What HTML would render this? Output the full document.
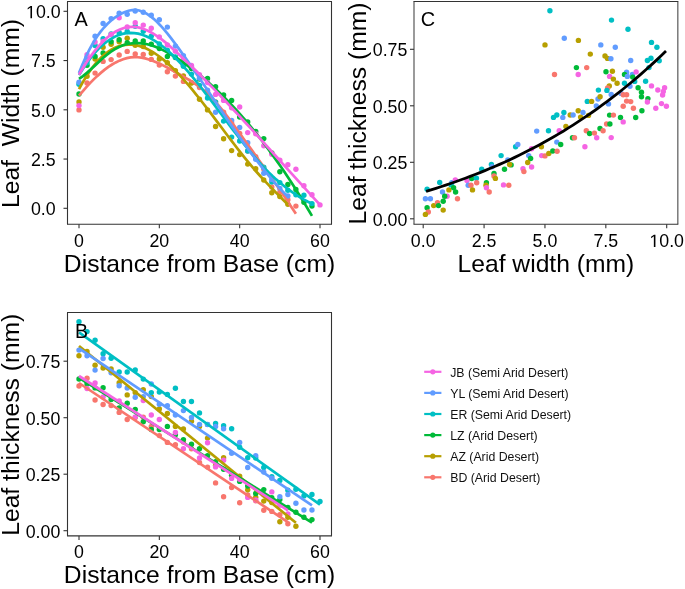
<!DOCTYPE html><html><head><meta charset="utf-8"><style>html,body{margin:0;padding:0;background:#fff;}svg{display:block;filter:blur(0.3px);}text{font-family:"Liberation Sans", sans-serif;fill:#000;}</style></head><body>
<svg width="685" height="589" viewBox="0 0 685 589">
<rect width="685" height="589" fill="#fff"/>
<g>
<circle cx="79.00" cy="109.90" r="2.7" fill="#F8766D"/>
<circle cx="87.03" cy="83.00" r="2.7" fill="#F8766D"/>
<circle cx="95.07" cy="73.10" r="2.7" fill="#F8766D"/>
<circle cx="103.10" cy="61.40" r="2.7" fill="#F8766D"/>
<circle cx="111.13" cy="59.60" r="2.7" fill="#F8766D"/>
<circle cx="119.17" cy="55.00" r="2.7" fill="#F8766D"/>
<circle cx="127.20" cy="51.40" r="2.7" fill="#F8766D"/>
<circle cx="135.23" cy="53.90" r="2.7" fill="#F8766D"/>
<circle cx="143.27" cy="54.50" r="2.7" fill="#F8766D"/>
<circle cx="151.30" cy="59.40" r="2.7" fill="#F8766D"/>
<circle cx="159.33" cy="65.10" r="2.7" fill="#F8766D"/>
<circle cx="167.37" cy="71.80" r="2.7" fill="#F8766D"/>
<circle cx="175.40" cy="76.10" r="2.7" fill="#F8766D"/>
<circle cx="183.43" cy="81.40" r="2.7" fill="#F8766D"/>
<circle cx="191.47" cy="82.70" r="2.7" fill="#F8766D"/>
<circle cx="199.50" cy="87.50" r="2.7" fill="#F8766D"/>
<circle cx="207.53" cy="92.00" r="2.7" fill="#F8766D"/>
<circle cx="215.57" cy="102.01" r="2.7" fill="#F8766D"/>
<circle cx="223.60" cy="112.20" r="2.7" fill="#F8766D"/>
<circle cx="231.63" cy="122.90" r="2.7" fill="#F8766D"/>
<circle cx="239.67" cy="133.33" r="2.7" fill="#F8766D"/>
<circle cx="247.70" cy="151.00" r="2.7" fill="#F8766D"/>
<circle cx="255.73" cy="156.70" r="2.7" fill="#F8766D"/>
<circle cx="263.77" cy="169.00" r="2.7" fill="#F8766D"/>
<circle cx="271.80" cy="187.00" r="2.7" fill="#F8766D"/>
<circle cx="279.83" cy="192.10" r="2.7" fill="#F8766D"/>
<circle cx="287.87" cy="199.80" r="2.7" fill="#F8766D"/>
<circle cx="295.90" cy="206.10" r="2.7" fill="#F8766D"/>
<circle cx="79.00" cy="101.90" r="2.7" fill="#B79F00"/>
<circle cx="87.03" cy="76.20" r="2.7" fill="#B79F00"/>
<circle cx="95.07" cy="59.00" r="2.7" fill="#B79F00"/>
<circle cx="103.10" cy="47.30" r="2.7" fill="#B79F00"/>
<circle cx="111.13" cy="44.30" r="2.7" fill="#B79F00"/>
<circle cx="119.17" cy="41.70" r="2.7" fill="#B79F00"/>
<circle cx="127.20" cy="38.20" r="2.7" fill="#B79F00"/>
<circle cx="135.23" cy="45.30" r="2.7" fill="#B79F00"/>
<circle cx="143.27" cy="46.50" r="2.7" fill="#B79F00"/>
<circle cx="151.30" cy="53.30" r="2.7" fill="#B79F00"/>
<circle cx="159.33" cy="59.00" r="2.7" fill="#B79F00"/>
<circle cx="167.37" cy="62.70" r="2.7" fill="#B79F00"/>
<circle cx="175.40" cy="70.60" r="2.7" fill="#B79F00"/>
<circle cx="183.43" cy="75.90" r="2.7" fill="#B79F00"/>
<circle cx="191.47" cy="83.00" r="2.7" fill="#B79F00"/>
<circle cx="199.50" cy="99.20" r="2.7" fill="#B79F00"/>
<circle cx="207.53" cy="109.90" r="2.7" fill="#B79F00"/>
<circle cx="215.57" cy="126.50" r="2.7" fill="#B79F00"/>
<circle cx="223.60" cy="138.80" r="2.7" fill="#B79F00"/>
<circle cx="231.63" cy="150.60" r="2.7" fill="#B79F00"/>
<circle cx="239.67" cy="154.60" r="2.7" fill="#B79F00"/>
<circle cx="247.70" cy="164.10" r="2.7" fill="#B79F00"/>
<circle cx="255.73" cy="168.80" r="2.7" fill="#B79F00"/>
<circle cx="263.77" cy="180.00" r="2.7" fill="#B79F00"/>
<circle cx="271.80" cy="192.80" r="2.7" fill="#B79F00"/>
<circle cx="279.83" cy="196.60" r="2.7" fill="#B79F00"/>
<circle cx="287.87" cy="204.20" r="2.7" fill="#B79F00"/>
<circle cx="79.00" cy="94.00" r="2.7" fill="#00BA38"/>
<circle cx="87.03" cy="65.20" r="2.7" fill="#00BA38"/>
<circle cx="95.07" cy="56.50" r="2.7" fill="#00BA38"/>
<circle cx="103.10" cy="52.90" r="2.7" fill="#00BA38"/>
<circle cx="111.13" cy="41.80" r="2.7" fill="#00BA38"/>
<circle cx="119.17" cy="39.70" r="2.7" fill="#00BA38"/>
<circle cx="127.20" cy="42.80" r="2.7" fill="#00BA38"/>
<circle cx="135.23" cy="41.00" r="2.7" fill="#00BA38"/>
<circle cx="143.27" cy="41.00" r="2.7" fill="#00BA38"/>
<circle cx="151.30" cy="44.10" r="2.7" fill="#00BA38"/>
<circle cx="159.33" cy="48.60" r="2.7" fill="#00BA38"/>
<circle cx="167.37" cy="56.50" r="2.7" fill="#00BA38"/>
<circle cx="175.40" cy="57.50" r="2.7" fill="#00BA38"/>
<circle cx="183.43" cy="65.50" r="2.7" fill="#00BA38"/>
<circle cx="191.47" cy="68.47" r="2.7" fill="#00BA38"/>
<circle cx="199.50" cy="79.00" r="2.7" fill="#00BA38"/>
<circle cx="207.53" cy="78.40" r="2.7" fill="#00BA38"/>
<circle cx="215.57" cy="86.70" r="2.7" fill="#00BA38"/>
<circle cx="223.60" cy="95.00" r="2.7" fill="#00BA38"/>
<circle cx="231.63" cy="100.40" r="2.7" fill="#00BA38"/>
<circle cx="239.67" cy="117.00" r="2.7" fill="#00BA38"/>
<circle cx="247.70" cy="122.00" r="2.7" fill="#00BA38"/>
<circle cx="255.73" cy="131.50" r="2.7" fill="#00BA38"/>
<circle cx="263.77" cy="138.60" r="2.7" fill="#00BA38"/>
<circle cx="271.80" cy="153.00" r="2.7" fill="#00BA38"/>
<circle cx="279.83" cy="171.80" r="2.7" fill="#00BA38"/>
<circle cx="287.87" cy="184.50" r="2.7" fill="#00BA38"/>
<circle cx="295.90" cy="189.48" r="2.7" fill="#00BA38"/>
<circle cx="303.93" cy="202.30" r="2.7" fill="#00BA38"/>
<circle cx="311.97" cy="206.10" r="2.7" fill="#00BA38"/>
<circle cx="79.00" cy="84.20" r="2.7" fill="#00BFC4"/>
<circle cx="87.03" cy="62.68" r="2.7" fill="#00BFC4"/>
<circle cx="95.07" cy="45.50" r="2.7" fill="#00BFC4"/>
<circle cx="103.10" cy="38.80" r="2.7" fill="#00BFC4"/>
<circle cx="111.13" cy="33.90" r="2.7" fill="#00BFC4"/>
<circle cx="119.17" cy="32.50" r="2.7" fill="#00BFC4"/>
<circle cx="127.20" cy="31.50" r="2.7" fill="#00BFC4"/>
<circle cx="135.23" cy="26.30" r="2.7" fill="#00BFC4"/>
<circle cx="143.27" cy="31.20" r="2.7" fill="#00BFC4"/>
<circle cx="151.30" cy="36.10" r="2.7" fill="#00BFC4"/>
<circle cx="159.33" cy="43.86" r="2.7" fill="#00BFC4"/>
<circle cx="167.37" cy="50.29" r="2.7" fill="#00BFC4"/>
<circle cx="175.40" cy="56.90" r="2.7" fill="#00BFC4"/>
<circle cx="183.43" cy="66.36" r="2.7" fill="#00BFC4"/>
<circle cx="191.47" cy="74.10" r="2.7" fill="#00BFC4"/>
<circle cx="199.50" cy="85.56" r="2.7" fill="#00BFC4"/>
<circle cx="207.53" cy="98.00" r="2.7" fill="#00BFC4"/>
<circle cx="215.57" cy="102.10" r="2.7" fill="#00BFC4"/>
<circle cx="223.60" cy="121.10" r="2.7" fill="#00BFC4"/>
<circle cx="231.63" cy="137.10" r="2.7" fill="#00BFC4"/>
<circle cx="239.67" cy="141.00" r="2.7" fill="#00BFC4"/>
<circle cx="247.70" cy="151.00" r="2.7" fill="#00BFC4"/>
<circle cx="255.73" cy="158.32" r="2.7" fill="#00BFC4"/>
<circle cx="263.77" cy="167.25" r="2.7" fill="#00BFC4"/>
<circle cx="271.80" cy="181.90" r="2.7" fill="#00BFC4"/>
<circle cx="279.83" cy="182.59" r="2.7" fill="#00BFC4"/>
<circle cx="287.87" cy="190.20" r="2.7" fill="#00BFC4"/>
<circle cx="295.90" cy="194.68" r="2.7" fill="#00BFC4"/>
<circle cx="303.93" cy="195.30" r="2.7" fill="#00BFC4"/>
<circle cx="311.97" cy="203.60" r="2.7" fill="#00BFC4"/>
<circle cx="79.00" cy="82.30" r="2.7" fill="#619CFF"/>
<circle cx="87.03" cy="57.20" r="2.7" fill="#619CFF"/>
<circle cx="95.07" cy="36.30" r="2.7" fill="#619CFF"/>
<circle cx="103.10" cy="23.50" r="2.7" fill="#619CFF"/>
<circle cx="111.13" cy="18.60" r="2.7" fill="#619CFF"/>
<circle cx="119.17" cy="13.20" r="2.7" fill="#619CFF"/>
<circle cx="127.20" cy="14.20" r="2.7" fill="#619CFF"/>
<circle cx="135.23" cy="11.00" r="2.7" fill="#619CFF"/>
<circle cx="143.27" cy="12.20" r="2.7" fill="#619CFF"/>
<circle cx="151.30" cy="15.30" r="2.7" fill="#619CFF"/>
<circle cx="159.33" cy="19.80" r="2.7" fill="#619CFF"/>
<circle cx="167.37" cy="27.10" r="2.7" fill="#619CFF"/>
<circle cx="175.40" cy="46.10" r="2.7" fill="#619CFF"/>
<circle cx="183.43" cy="55.70" r="2.7" fill="#619CFF"/>
<circle cx="191.47" cy="66.57" r="2.7" fill="#619CFF"/>
<circle cx="199.50" cy="78.29" r="2.7" fill="#619CFF"/>
<circle cx="207.53" cy="90.16" r="2.7" fill="#619CFF"/>
<circle cx="215.57" cy="112.20" r="2.7" fill="#619CFF"/>
<circle cx="223.60" cy="113.96" r="2.7" fill="#619CFF"/>
<circle cx="231.63" cy="120.50" r="2.7" fill="#619CFF"/>
<circle cx="239.67" cy="127.50" r="2.7" fill="#619CFF"/>
<circle cx="247.70" cy="142.70" r="2.7" fill="#619CFF"/>
<circle cx="255.73" cy="159.32" r="2.7" fill="#619CFF"/>
<circle cx="263.77" cy="173.30" r="2.7" fill="#619CFF"/>
<circle cx="271.80" cy="179.40" r="2.7" fill="#619CFF"/>
<circle cx="279.83" cy="188.48" r="2.7" fill="#619CFF"/>
<circle cx="287.87" cy="196.00" r="2.7" fill="#619CFF"/>
<circle cx="79.00" cy="105.60" r="2.7" fill="#F564E3"/>
<circle cx="87.03" cy="54.80" r="2.7" fill="#F564E3"/>
<circle cx="95.07" cy="42.10" r="2.7" fill="#F564E3"/>
<circle cx="103.10" cy="41.43" r="2.7" fill="#F564E3"/>
<circle cx="111.13" cy="34.52" r="2.7" fill="#F564E3"/>
<circle cx="119.17" cy="17.80" r="2.7" fill="#F564E3"/>
<circle cx="127.20" cy="27.00" r="2.7" fill="#F564E3"/>
<circle cx="135.23" cy="22.70" r="2.7" fill="#F564E3"/>
<circle cx="143.27" cy="25.10" r="2.7" fill="#F564E3"/>
<circle cx="151.30" cy="28.20" r="2.7" fill="#F564E3"/>
<circle cx="159.33" cy="36.90" r="2.7" fill="#F564E3"/>
<circle cx="167.37" cy="44.90" r="2.7" fill="#F564E3"/>
<circle cx="175.40" cy="51.13" r="2.7" fill="#F564E3"/>
<circle cx="183.43" cy="59.20" r="2.7" fill="#F564E3"/>
<circle cx="191.47" cy="65.50" r="2.7" fill="#F564E3"/>
<circle cx="199.50" cy="74.70" r="2.7" fill="#F564E3"/>
<circle cx="207.53" cy="82.48" r="2.7" fill="#F564E3"/>
<circle cx="215.57" cy="94.40" r="2.7" fill="#F564E3"/>
<circle cx="223.60" cy="100.40" r="2.7" fill="#F564E3"/>
<circle cx="231.63" cy="107.71" r="2.7" fill="#F564E3"/>
<circle cx="239.67" cy="107.00" r="2.7" fill="#F564E3"/>
<circle cx="247.70" cy="132.60" r="2.7" fill="#F564E3"/>
<circle cx="255.73" cy="133.80" r="2.7" fill="#F564E3"/>
<circle cx="263.77" cy="145.70" r="2.7" fill="#F564E3"/>
<circle cx="271.80" cy="154.30" r="2.7" fill="#F564E3"/>
<circle cx="279.83" cy="160.30" r="2.7" fill="#F564E3"/>
<circle cx="287.87" cy="164.70" r="2.7" fill="#F564E3"/>
<circle cx="295.90" cy="169.20" r="2.7" fill="#F564E3"/>
<circle cx="303.93" cy="185.80" r="2.7" fill="#F564E3"/>
<circle cx="311.97" cy="194.70" r="2.7" fill="#F564E3"/>
<circle cx="320.00" cy="204.90" r="2.7" fill="#F564E3"/>
<path d="M79.00,95.65 L82.68,91.28 L86.35,87.10 L90.03,83.14 L93.71,79.39 L97.38,75.88 L101.06,72.62 L104.73,69.63 L108.41,66.93 L112.09,64.52 L115.76,62.42 L119.44,60.65 L123.12,59.22 L126.79,58.16 L130.47,57.46 L134.14,57.15 L137.82,57.23 L141.50,57.66 L145.17,58.41 L148.85,59.43 L152.53,60.70 L156.20,62.19 L159.88,63.84 L163.55,65.64 L167.23,67.54 L170.91,69.53 L174.58,71.58 L178.26,73.66 L181.94,75.74 L185.61,77.84 L189.29,80.02 L192.96,82.31 L196.64,84.79 L200.32,87.49 L203.99,90.48 L207.67,93.80 L211.35,97.45 L215.02,101.40 L218.70,105.63 L222.37,110.11 L226.05,114.80 L229.73,119.67 L233.40,124.67 L237.08,129.74 L240.76,134.84 L244.43,139.95 L248.11,145.05 L251.78,150.16 L255.46,155.28 L259.14,160.42 L262.81,165.57 L266.49,170.75 L270.17,175.97 L273.84,181.22 L277.52,186.51 L281.19,191.85 L284.87,197.23 L288.55,202.67 L292.22,208.16 L295.90,213.71" fill="none" stroke="#F8766D" stroke-width="2.7" stroke-linecap="butt"/>
<path d="M79.00,89.16 L82.54,82.67 L86.08,76.75 L89.62,71.38 L93.16,66.55 L96.70,62.24 L100.24,58.44 L103.78,55.14 L107.32,52.31 L110.86,49.95 L114.40,48.03 L117.94,46.56 L121.48,45.50 L125.02,44.84 L128.56,44.58 L132.10,44.69 L135.64,45.16 L139.18,45.98 L142.72,47.13 L146.26,48.59 L149.80,50.36 L153.34,52.41 L156.88,54.74 L160.42,57.32 L163.96,60.15 L167.50,63.20 L171.04,66.46 L174.58,69.93 L178.12,73.57 L181.66,77.39 L185.20,81.35 L188.74,85.46 L192.28,89.69 L195.82,94.03 L199.36,98.47 L202.90,102.98 L206.44,107.56 L209.98,112.19 L213.52,116.87 L217.06,121.57 L220.60,126.28 L224.14,130.99 L227.68,135.69 L231.22,140.37 L234.76,145.00 L238.30,149.59 L241.84,154.10 L245.38,158.54 L248.92,162.89 L252.46,167.13 L256.00,171.25 L259.55,175.25 L263.09,179.14 L266.63,182.93 L270.17,186.64 L273.71,190.29 L277.25,193.89 L280.79,197.45 L284.33,201.00 L287.87,204.54" fill="none" stroke="#B79F00" stroke-width="2.7" stroke-linecap="butt"/>
<path d="M79.00,78.87 L82.95,76.07 L86.90,72.85 L90.85,69.34 L94.79,65.67 L98.74,61.97 L102.69,58.35 L106.64,54.96 L110.59,51.91 L114.54,49.31 L118.49,47.19 L122.43,45.52 L126.38,44.28 L130.33,43.47 L134.28,43.05 L138.23,43.03 L142.18,43.36 L146.13,44.03 L150.07,45.02 L154.02,46.29 L157.97,47.83 L161.92,49.62 L165.87,51.63 L169.82,53.83 L173.77,56.21 L177.71,58.74 L181.66,61.39 L185.61,64.16 L189.56,67.04 L193.51,70.04 L197.46,73.15 L201.41,76.37 L205.35,79.72 L209.30,83.17 L213.25,86.75 L217.20,90.44 L221.15,94.26 L225.10,98.19 L229.05,102.24 L232.99,106.41 L236.94,110.70 L240.89,115.11 L244.84,119.64 L248.79,124.30 L252.74,129.08 L256.69,133.98 L260.63,139.00 L264.58,144.16 L268.53,149.43 L272.48,154.83 L276.43,160.36 L280.38,166.01 L284.33,171.80 L288.27,177.71 L292.22,183.74 L296.17,189.91 L300.12,196.21 L304.07,202.64 L308.02,209.19 L311.97,215.88" fill="none" stroke="#00BA38" stroke-width="2.7" stroke-linecap="butt"/>
<path d="M79.00,75.06 L82.95,68.69 L86.90,62.87 L90.85,57.58 L94.79,52.84 L98.74,48.61 L102.69,44.91 L106.64,41.72 L110.59,39.03 L114.54,36.84 L118.49,35.13 L122.43,33.91 L126.38,33.16 L130.33,32.88 L134.28,33.06 L138.23,33.69 L142.18,34.75 L146.13,36.22 L150.07,38.09 L154.02,40.32 L157.97,42.89 L161.92,45.79 L165.87,49.00 L169.82,52.49 L173.77,56.23 L177.71,60.22 L181.66,64.42 L185.61,68.81 L189.56,73.39 L193.51,78.12 L197.46,82.99 L201.41,87.98 L205.35,93.06 L209.30,98.23 L213.25,103.46 L217.20,108.73 L221.15,114.02 L225.10,119.31 L229.05,124.59 L232.99,129.83 L236.94,135.01 L240.89,140.12 L244.84,145.14 L248.79,150.04 L252.74,154.80 L256.69,159.42 L260.63,163.86 L264.58,168.11 L268.53,172.16 L272.48,175.99 L276.43,179.62 L280.38,183.05 L284.33,186.29 L288.27,189.33 L292.22,192.18 L296.17,194.85 L300.12,197.35 L304.07,199.66 L308.02,201.81 L311.97,203.79" fill="none" stroke="#00BFC4" stroke-width="2.7" stroke-linecap="butt"/>
<path d="M79.00,73.12 L82.54,64.24 L86.08,56.25 L89.62,49.10 L93.16,42.73 L96.70,37.08 L100.24,32.12 L103.78,27.77 L107.32,24.00 L110.86,20.74 L114.40,17.95 L117.94,15.58 L121.48,13.56 L125.02,11.92 L128.56,10.71 L132.10,10.03 L135.64,9.94 L139.18,10.51 L142.72,11.71 L146.26,13.49 L149.80,15.81 L153.34,18.60 L156.88,21.84 L160.42,25.46 L163.96,29.41 L167.50,33.66 L171.04,38.15 L174.58,42.83 L178.12,47.66 L181.66,52.59 L185.20,57.59 L188.74,62.64 L192.28,67.75 L195.82,72.90 L199.36,78.09 L202.90,83.30 L206.44,88.54 L209.98,93.79 L213.52,99.05 L217.06,104.30 L220.60,109.54 L224.14,114.77 L227.68,119.97 L231.22,125.13 L234.76,130.25 L238.30,135.33 L241.84,140.34 L245.38,145.29 L248.92,150.17 L252.46,154.97 L256.00,159.68 L259.55,164.29 L263.09,168.80 L266.63,173.20 L270.17,177.47 L273.71,181.62 L277.25,185.64 L280.79,189.51 L284.33,193.23 L287.87,196.79" fill="none" stroke="#619CFF" stroke-width="2.7" stroke-linecap="butt"/>
<path d="M79.00,74.71 L83.08,67.77 L87.17,61.36 L91.25,55.47 L95.34,50.12 L99.42,45.30 L103.51,41.03 L107.59,37.30 L111.68,34.13 L115.76,31.52 L119.85,29.48 L123.93,28.00 L128.02,27.10 L132.10,26.77 L136.19,27.03 L140.27,27.85 L144.36,29.18 L148.44,30.98 L152.53,33.19 L156.61,35.78 L160.69,38.69 L164.78,41.88 L168.86,45.30 L172.95,48.90 L177.03,52.64 L181.12,56.47 L185.20,60.36 L189.29,64.30 L193.37,68.29 L197.46,72.33 L201.54,76.41 L205.63,80.54 L209.71,84.71 L213.80,88.92 L217.88,93.17 L221.97,97.45 L226.05,101.76 L230.13,106.11 L234.22,110.48 L238.30,114.88 L242.39,119.30 L246.47,123.74 L250.56,128.20 L254.64,132.68 L258.73,137.17 L262.81,141.68 L266.90,146.19 L270.98,150.71 L275.07,155.24 L279.15,159.77 L283.24,164.31 L287.32,168.84 L291.41,173.36 L295.49,177.89 L299.58,182.40 L303.66,186.90 L307.74,191.39 L311.83,195.87 L315.91,200.33 L320.00,204.77" fill="none" stroke="#F564E3" stroke-width="2.7" stroke-linecap="butt"/>
</g>
<g>
<circle cx="79.00" cy="386.00" r="2.7" fill="#F8766D"/>
<circle cx="87.03" cy="378.30" r="2.7" fill="#F8766D"/>
<circle cx="95.07" cy="400.00" r="2.7" fill="#F8766D"/>
<circle cx="103.10" cy="404.50" r="2.7" fill="#F8766D"/>
<circle cx="111.13" cy="405.60" r="2.7" fill="#F8766D"/>
<circle cx="119.17" cy="412.40" r="2.7" fill="#F8766D"/>
<circle cx="127.20" cy="419.50" r="2.7" fill="#F8766D"/>
<circle cx="135.23" cy="417.60" r="2.7" fill="#F8766D"/>
<circle cx="143.27" cy="417.30" r="2.7" fill="#F8766D"/>
<circle cx="151.30" cy="426.40" r="2.7" fill="#F8766D"/>
<circle cx="159.33" cy="435.60" r="2.7" fill="#F8766D"/>
<circle cx="167.37" cy="442.40" r="2.7" fill="#F8766D"/>
<circle cx="175.40" cy="444.70" r="2.7" fill="#F8766D"/>
<circle cx="183.43" cy="442.00" r="2.7" fill="#F8766D"/>
<circle cx="191.47" cy="448.80" r="2.7" fill="#F8766D"/>
<circle cx="199.50" cy="462.50" r="2.7" fill="#F8766D"/>
<circle cx="207.53" cy="467.10" r="2.7" fill="#F8766D"/>
<circle cx="215.57" cy="482.90" r="2.7" fill="#F8766D"/>
<circle cx="223.60" cy="496.70" r="2.7" fill="#F8766D"/>
<circle cx="231.63" cy="487.50" r="2.7" fill="#F8766D"/>
<circle cx="239.67" cy="502.80" r="2.7" fill="#F8766D"/>
<circle cx="247.70" cy="495.00" r="2.7" fill="#F8766D"/>
<circle cx="255.73" cy="500.70" r="2.7" fill="#F8766D"/>
<circle cx="263.77" cy="510.20" r="2.7" fill="#F8766D"/>
<circle cx="271.80" cy="511.40" r="2.7" fill="#F8766D"/>
<circle cx="279.83" cy="514.80" r="2.7" fill="#F8766D"/>
<circle cx="287.87" cy="523.80" r="2.7" fill="#F8766D"/>
<circle cx="79.00" cy="355.80" r="2.7" fill="#B79F00"/>
<circle cx="87.03" cy="351.50" r="2.7" fill="#B79F00"/>
<circle cx="95.07" cy="365.30" r="2.7" fill="#B79F00"/>
<circle cx="103.10" cy="368.00" r="2.7" fill="#B79F00"/>
<circle cx="111.13" cy="368.90" r="2.7" fill="#B79F00"/>
<circle cx="119.17" cy="382.70" r="2.7" fill="#B79F00"/>
<circle cx="127.20" cy="394.90" r="2.7" fill="#B79F00"/>
<circle cx="135.23" cy="392.60" r="2.7" fill="#B79F00"/>
<circle cx="143.27" cy="389.80" r="2.7" fill="#B79F00"/>
<circle cx="151.30" cy="396.60" r="2.7" fill="#B79F00"/>
<circle cx="159.33" cy="408.90" r="2.7" fill="#B79F00"/>
<circle cx="167.37" cy="413.40" r="2.7" fill="#B79F00"/>
<circle cx="175.40" cy="426.40" r="2.7" fill="#B79F00"/>
<circle cx="183.43" cy="428.90" r="2.7" fill="#B79F00"/>
<circle cx="191.47" cy="421.30" r="2.7" fill="#B79F00"/>
<circle cx="199.50" cy="426.60" r="2.7" fill="#B79F00"/>
<circle cx="207.53" cy="438.10" r="2.7" fill="#B79F00"/>
<circle cx="215.57" cy="465.60" r="2.7" fill="#B79F00"/>
<circle cx="223.60" cy="457.70" r="2.7" fill="#B79F00"/>
<circle cx="231.63" cy="475.30" r="2.7" fill="#B79F00"/>
<circle cx="239.67" cy="476.10" r="2.7" fill="#B79F00"/>
<circle cx="247.70" cy="489.80" r="2.7" fill="#B79F00"/>
<circle cx="255.73" cy="497.30" r="2.7" fill="#B79F00"/>
<circle cx="263.77" cy="501.10" r="2.7" fill="#B79F00"/>
<circle cx="271.80" cy="502.60" r="2.7" fill="#B79F00"/>
<circle cx="279.83" cy="521.70" r="2.7" fill="#B79F00"/>
<circle cx="287.87" cy="517.30" r="2.7" fill="#B79F00"/>
<circle cx="295.90" cy="526.20" r="2.7" fill="#B79F00"/>
<circle cx="79.00" cy="379.00" r="2.7" fill="#00BA38"/>
<circle cx="87.03" cy="383.70" r="2.7" fill="#00BA38"/>
<circle cx="95.07" cy="387.89" r="2.7" fill="#00BA38"/>
<circle cx="103.10" cy="387.80" r="2.7" fill="#00BA38"/>
<circle cx="111.13" cy="399.50" r="2.7" fill="#00BA38"/>
<circle cx="119.17" cy="407.90" r="2.7" fill="#00BA38"/>
<circle cx="127.20" cy="403.30" r="2.7" fill="#00BA38"/>
<circle cx="135.23" cy="409.40" r="2.7" fill="#00BA38"/>
<circle cx="143.27" cy="421.80" r="2.7" fill="#00BA38"/>
<circle cx="151.30" cy="429.50" r="2.7" fill="#00BA38"/>
<circle cx="159.33" cy="429.50" r="2.7" fill="#00BA38"/>
<circle cx="167.37" cy="426.40" r="2.7" fill="#00BA38"/>
<circle cx="175.40" cy="434.80" r="2.7" fill="#00BA38"/>
<circle cx="183.43" cy="439.60" r="2.7" fill="#00BA38"/>
<circle cx="191.47" cy="444.20" r="2.7" fill="#00BA38"/>
<circle cx="199.50" cy="448.80" r="2.7" fill="#00BA38"/>
<circle cx="207.53" cy="455.60" r="2.7" fill="#00BA38"/>
<circle cx="215.57" cy="461.80" r="2.7" fill="#00BA38"/>
<circle cx="223.60" cy="469.20" r="2.7" fill="#00BA38"/>
<circle cx="231.63" cy="475.30" r="2.7" fill="#00BA38"/>
<circle cx="239.67" cy="481.40" r="2.7" fill="#00BA38"/>
<circle cx="247.70" cy="486.00" r="2.7" fill="#00BA38"/>
<circle cx="255.73" cy="493.40" r="2.7" fill="#00BA38"/>
<circle cx="263.77" cy="489.60" r="2.7" fill="#00BA38"/>
<circle cx="271.80" cy="497.72" r="2.7" fill="#00BA38"/>
<circle cx="279.83" cy="499.60" r="2.7" fill="#00BA38"/>
<circle cx="287.87" cy="507.50" r="2.7" fill="#00BA38"/>
<circle cx="295.90" cy="512.20" r="2.7" fill="#00BA38"/>
<circle cx="303.93" cy="517.30" r="2.7" fill="#00BA38"/>
<circle cx="311.97" cy="519.60" r="2.7" fill="#00BA38"/>
<circle cx="79.00" cy="321.80" r="2.7" fill="#00BFC4"/>
<circle cx="87.03" cy="331.60" r="2.7" fill="#00BFC4"/>
<circle cx="95.07" cy="340.20" r="2.7" fill="#00BFC4"/>
<circle cx="103.10" cy="353.80" r="2.7" fill="#00BFC4"/>
<circle cx="111.13" cy="358.20" r="2.7" fill="#00BFC4"/>
<circle cx="119.17" cy="372.00" r="2.7" fill="#00BFC4"/>
<circle cx="127.20" cy="372.00" r="2.7" fill="#00BFC4"/>
<circle cx="135.23" cy="370.00" r="2.7" fill="#00BFC4"/>
<circle cx="143.27" cy="379.10" r="2.7" fill="#00BFC4"/>
<circle cx="151.30" cy="392.60" r="2.7" fill="#00BFC4"/>
<circle cx="159.33" cy="392.10" r="2.7" fill="#00BFC4"/>
<circle cx="167.37" cy="394.40" r="2.7" fill="#00BFC4"/>
<circle cx="175.40" cy="388.20" r="2.7" fill="#00BFC4"/>
<circle cx="183.43" cy="401.50" r="2.7" fill="#00BFC4"/>
<circle cx="191.47" cy="401.50" r="2.7" fill="#00BFC4"/>
<circle cx="199.50" cy="412.90" r="2.7" fill="#00BFC4"/>
<circle cx="207.53" cy="424.40" r="2.7" fill="#00BFC4"/>
<circle cx="215.57" cy="423.40" r="2.7" fill="#00BFC4"/>
<circle cx="223.60" cy="425.70" r="2.7" fill="#00BFC4"/>
<circle cx="231.63" cy="428.70" r="2.7" fill="#00BFC4"/>
<circle cx="239.67" cy="447.28" r="2.7" fill="#00BFC4"/>
<circle cx="247.70" cy="457.70" r="2.7" fill="#00BFC4"/>
<circle cx="255.73" cy="458.00" r="2.7" fill="#00BFC4"/>
<circle cx="263.77" cy="467.50" r="2.7" fill="#00BFC4"/>
<circle cx="271.80" cy="476.60" r="2.7" fill="#00BFC4"/>
<circle cx="279.83" cy="480.50" r="2.7" fill="#00BFC4"/>
<circle cx="287.87" cy="490.30" r="2.7" fill="#00BFC4"/>
<circle cx="295.90" cy="489.30" r="2.7" fill="#00BFC4"/>
<circle cx="303.93" cy="495.90" r="2.7" fill="#00BFC4"/>
<circle cx="311.97" cy="494.50" r="2.7" fill="#00BFC4"/>
<circle cx="320.00" cy="501.50" r="2.7" fill="#00BFC4"/>
<circle cx="79.00" cy="350.10" r="2.7" fill="#619CFF"/>
<circle cx="87.03" cy="355.80" r="2.7" fill="#619CFF"/>
<circle cx="95.07" cy="370.10" r="2.7" fill="#619CFF"/>
<circle cx="103.10" cy="358.50" r="2.7" fill="#619CFF"/>
<circle cx="111.13" cy="372.70" r="2.7" fill="#619CFF"/>
<circle cx="119.17" cy="385.70" r="2.7" fill="#619CFF"/>
<circle cx="127.20" cy="388.00" r="2.7" fill="#619CFF"/>
<circle cx="135.23" cy="397.20" r="2.7" fill="#619CFF"/>
<circle cx="143.27" cy="396.60" r="2.7" fill="#619CFF"/>
<circle cx="151.30" cy="384.00" r="2.7" fill="#619CFF"/>
<circle cx="159.33" cy="404.30" r="2.7" fill="#619CFF"/>
<circle cx="167.37" cy="405.80" r="2.7" fill="#619CFF"/>
<circle cx="175.40" cy="415.00" r="2.7" fill="#619CFF"/>
<circle cx="183.43" cy="410.60" r="2.7" fill="#619CFF"/>
<circle cx="191.47" cy="417.50" r="2.7" fill="#619CFF"/>
<circle cx="199.50" cy="424.40" r="2.7" fill="#619CFF"/>
<circle cx="207.53" cy="424.60" r="2.7" fill="#619CFF"/>
<circle cx="215.57" cy="426.50" r="2.7" fill="#619CFF"/>
<circle cx="223.60" cy="428.70" r="2.7" fill="#619CFF"/>
<circle cx="231.63" cy="453.20" r="2.7" fill="#619CFF"/>
<circle cx="239.67" cy="442.50" r="2.7" fill="#619CFF"/>
<circle cx="247.70" cy="467.50" r="2.7" fill="#619CFF"/>
<circle cx="255.73" cy="455.60" r="2.7" fill="#619CFF"/>
<circle cx="263.77" cy="472.10" r="2.7" fill="#619CFF"/>
<circle cx="271.80" cy="478.20" r="2.7" fill="#619CFF"/>
<circle cx="279.83" cy="496.80" r="2.7" fill="#619CFF"/>
<circle cx="287.87" cy="494.50" r="2.7" fill="#619CFF"/>
<circle cx="295.90" cy="503.30" r="2.7" fill="#619CFF"/>
<circle cx="303.93" cy="510.00" r="2.7" fill="#619CFF"/>
<circle cx="311.97" cy="510.00" r="2.7" fill="#619CFF"/>
<circle cx="87.03" cy="388.50" r="2.7" fill="#F564E3"/>
<circle cx="95.07" cy="383.00" r="2.7" fill="#F564E3"/>
<circle cx="103.10" cy="397.00" r="2.7" fill="#F564E3"/>
<circle cx="119.17" cy="401.00" r="2.7" fill="#F564E3"/>
<circle cx="135.23" cy="417.00" r="2.7" fill="#F564E3"/>
<circle cx="143.27" cy="400.50" r="2.7" fill="#F564E3"/>
<circle cx="151.30" cy="415.00" r="2.7" fill="#F564E3"/>
<circle cx="159.33" cy="419.50" r="2.7" fill="#F564E3"/>
<circle cx="175.40" cy="432.50" r="2.7" fill="#F564E3"/>
<circle cx="183.43" cy="448.80" r="2.7" fill="#F564E3"/>
<circle cx="199.50" cy="458.00" r="2.7" fill="#F564E3"/>
<circle cx="207.53" cy="442.70" r="2.7" fill="#F564E3"/>
<circle cx="215.57" cy="466.90" r="2.7" fill="#F564E3"/>
<circle cx="223.60" cy="460.20" r="2.7" fill="#F564E3"/>
<circle cx="231.63" cy="478.40" r="2.7" fill="#F564E3"/>
<circle cx="239.67" cy="479.31" r="2.7" fill="#F564E3"/>
<circle cx="247.70" cy="497.40" r="2.7" fill="#F564E3"/>
<circle cx="255.73" cy="500.00" r="2.7" fill="#F564E3"/>
<circle cx="263.77" cy="494.80" r="2.7" fill="#F564E3"/>
<circle cx="271.80" cy="491.90" r="2.7" fill="#F564E3"/>
<circle cx="279.83" cy="505.14" r="2.7" fill="#F564E3"/>
<circle cx="287.87" cy="514.00" r="2.7" fill="#F564E3"/>
<path d="M79.00,383.00 L287.90,522.13" fill="none" stroke="#F8766D" stroke-width="2.7" stroke-linecap="butt"/>
<path d="M79.00,346.00 L295.90,522.77" fill="none" stroke="#B79F00" stroke-width="2.7" stroke-linecap="butt"/>
<path d="M79.00,377.90 L312.00,522.71" fill="none" stroke="#00BA38" stroke-width="2.7" stroke-linecap="butt"/>
<path d="M79.00,332.40 L320.00,504.71" fill="none" stroke="#00BFC4" stroke-width="2.7" stroke-linecap="butt"/>
<path d="M79.00,348.30 L312.00,505.34" fill="none" stroke="#619CFF" stroke-width="2.7" stroke-linecap="butt"/>
<path d="M79.00,376.00 L287.90,510.32" fill="none" stroke="#F564E3" stroke-width="2.7" stroke-linecap="butt"/>
</g>
<g>
<circle cx="427.1" cy="189.2" r="2.7" fill="#00BFC4"/>
<circle cx="425.4" cy="198.7" r="2.7" fill="#619CFF"/>
<circle cx="430.4" cy="198.7" r="2.7" fill="#619CFF"/>
<circle cx="427.1" cy="207.7" r="2.7" fill="#00BA38"/>
<circle cx="428.3" cy="212.0" r="2.7" fill="#F8766D"/>
<circle cx="425.4" cy="214.4" r="2.7" fill="#B79F00"/>
<circle cx="433.7" cy="205.6" r="2.7" fill="#B79F00"/>
<circle cx="437.5" cy="202.7" r="2.7" fill="#F8766D"/>
<circle cx="438.5" cy="205.6" r="2.7" fill="#00BA38"/>
<circle cx="439.7" cy="182.5" r="2.7" fill="#00BFC4"/>
<circle cx="442.5" cy="192.0" r="2.7" fill="#619CFF"/>
<circle cx="447.1" cy="196.3" r="2.7" fill="#F564E3"/>
<circle cx="444.7" cy="196.3" r="2.7" fill="#00BA38"/>
<circle cx="443.2" cy="201.3" r="2.7" fill="#00BA38"/>
<circle cx="443.2" cy="210.1" r="2.7" fill="#B79F00"/>
<circle cx="448.9" cy="189.9" r="2.7" fill="#B79F00"/>
<circle cx="451.8" cy="182.8" r="2.7" fill="#619CFF"/>
<circle cx="451.1" cy="184.9" r="2.7" fill="#00BFC4"/>
<circle cx="455.3" cy="179.9" r="2.7" fill="#F564E3"/>
<circle cx="453.6" cy="187.8" r="2.7" fill="#00BA38"/>
<circle cx="455.6" cy="192.0" r="2.7" fill="#00BA38"/>
<circle cx="457.5" cy="198.7" r="2.7" fill="#F8766D"/>
<circle cx="467.0" cy="180.6" r="2.7" fill="#F564E3"/>
<circle cx="468.2" cy="185.3" r="2.7" fill="#619CFF"/>
<circle cx="471.0" cy="185.3" r="2.7" fill="#F8766D"/>
<circle cx="471.7" cy="178.5" r="2.7" fill="#00BA38"/>
<circle cx="476.4" cy="178.2" r="2.7" fill="#00BFC4"/>
<circle cx="476.7" cy="182.8" r="2.7" fill="#F8766D"/>
<circle cx="472.5" cy="189.9" r="2.7" fill="#B79F00"/>
<circle cx="481.7" cy="169.2" r="2.7" fill="#00BFC4"/>
<circle cx="486.4" cy="182.7" r="2.7" fill="#00BA38"/>
<circle cx="486.0" cy="185.3" r="2.7" fill="#B79F00"/>
<circle cx="486.4" cy="187.7" r="2.7" fill="#F564E3"/>
<circle cx="489.2" cy="192.0" r="2.7" fill="#F8766D"/>
<circle cx="491.4" cy="164.5" r="2.7" fill="#00BFC4"/>
<circle cx="492.1" cy="166.7" r="2.7" fill="#619CFF"/>
<circle cx="494.0" cy="173.4" r="2.7" fill="#00BA38"/>
<circle cx="494.0" cy="175.9" r="2.7" fill="#F8766D"/>
<circle cx="495.4" cy="178.4" r="2.7" fill="#B79F00"/>
<circle cx="501.1" cy="155.6" r="2.7" fill="#00BFC4"/>
<circle cx="504.5" cy="169.2" r="2.7" fill="#00BA38"/>
<circle cx="503.5" cy="184.9" r="2.7" fill="#F564E3"/>
<circle cx="508.8" cy="185.3" r="2.7" fill="#F8766D"/>
<circle cx="507.8" cy="159.9" r="2.7" fill="#619CFF"/>
<circle cx="511.1" cy="164.9" r="2.7" fill="#00BA38"/>
<circle cx="509.6" cy="164.5" r="2.7" fill="#B79F00"/>
<circle cx="515.6" cy="146.8" r="2.7" fill="#00BFC4"/>
<circle cx="517.8" cy="144.5" r="2.7" fill="#619CFF"/>
<circle cx="523.0" cy="168.7" r="2.7" fill="#F564E3"/>
<circle cx="523.9" cy="171.6" r="2.7" fill="#F8766D"/>
<circle cx="528.7" cy="155.6" r="2.7" fill="#619CFF"/>
<circle cx="530.6" cy="158.5" r="2.7" fill="#00BA38"/>
<circle cx="527.7" cy="162.5" r="2.7" fill="#B79F00"/>
<circle cx="531.6" cy="167.0" r="2.7" fill="#F564E3"/>
<circle cx="531.6" cy="148.8" r="2.7" fill="#F564E3"/>
<circle cx="536.7" cy="131.1" r="2.7" fill="#619CFF"/>
<circle cx="541.4" cy="146.8" r="2.7" fill="#B79F00"/>
<circle cx="541.7" cy="155.6" r="2.7" fill="#F564E3"/>
<circle cx="545.0" cy="155.9" r="2.7" fill="#F8766D"/>
<circle cx="548.8" cy="153.5" r="2.7" fill="#B79F00"/>
<circle cx="548.5" cy="130.7" r="2.7" fill="#00BFC4"/>
<circle cx="552.8" cy="151.0" r="2.7" fill="#00BA38"/>
<circle cx="557.1" cy="151.3" r="2.7" fill="#F8766D"/>
<circle cx="553.5" cy="117.4" r="2.7" fill="#00BFC4"/>
<circle cx="556.8" cy="115.0" r="2.7" fill="#00BFC4"/>
<circle cx="556.8" cy="142.1" r="2.7" fill="#619CFF"/>
<circle cx="560.7" cy="144.5" r="2.7" fill="#00BA38"/>
<circle cx="559.2" cy="130.7" r="2.7" fill="#F564E3"/>
<circle cx="562.8" cy="117.4" r="2.7" fill="#619CFF"/>
<circle cx="563.9" cy="112.5" r="2.7" fill="#00BFC4"/>
<circle cx="565.9" cy="126.4" r="2.7" fill="#B79F00"/>
<circle cx="570.2" cy="115.0" r="2.7" fill="#B79F00"/>
<circle cx="573.1" cy="115.0" r="2.7" fill="#619CFF"/>
<circle cx="572.5" cy="137.8" r="2.7" fill="#00BA38"/>
<circle cx="574.5" cy="137.8" r="2.7" fill="#F8766D"/>
<circle cx="578.2" cy="110.7" r="2.7" fill="#B79F00"/>
<circle cx="583.0" cy="112.5" r="2.7" fill="#619CFF"/>
<circle cx="580.6" cy="117.1" r="2.7" fill="#B79F00"/>
<circle cx="588.5" cy="115.4" r="2.7" fill="#B79F00"/>
<circle cx="586.3" cy="130.7" r="2.7" fill="#F8766D"/>
<circle cx="589.6" cy="133.5" r="2.7" fill="#00BA38"/>
<circle cx="594.4" cy="133.1" r="2.7" fill="#F8766D"/>
<circle cx="584.9" cy="146.8" r="2.7" fill="#F564E3"/>
<circle cx="596.7" cy="137.8" r="2.7" fill="#F564E3"/>
<circle cx="600.0" cy="128.5" r="2.7" fill="#00BA38"/>
<circle cx="587.3" cy="101.4" r="2.7" fill="#00BFC4"/>
<circle cx="591.6" cy="101.4" r="2.7" fill="#B79F00"/>
<circle cx="596.3" cy="106.0" r="2.7" fill="#619CFF"/>
<circle cx="598.0" cy="99.0" r="2.7" fill="#619CFF"/>
<circle cx="549.9" cy="10.8" r="2.7" fill="#00BFC4"/>
<circle cx="611.5" cy="20.1" r="2.7" fill="#00BFC4"/>
<circle cx="564.3" cy="38.2" r="2.7" fill="#619CFF"/>
<circle cx="578.4" cy="40.4" r="2.7" fill="#B79F00"/>
<circle cx="545.0" cy="44.9" r="2.7" fill="#B79F00"/>
<circle cx="600.8" cy="44.9" r="2.7" fill="#619CFF"/>
<circle cx="590.3" cy="54.1" r="2.7" fill="#B79F00"/>
<circle cx="605.0" cy="56.0" r="2.7" fill="#B79F00"/>
<circle cx="607.5" cy="58.4" r="2.7" fill="#B79F00"/>
<circle cx="610.9" cy="58.7" r="2.7" fill="#619CFF"/>
<circle cx="576.4" cy="67.6" r="2.7" fill="#00BA38"/>
<circle cx="586.7" cy="67.6" r="2.7" fill="#F8766D"/>
<circle cx="606.0" cy="71.7" r="2.7" fill="#00BA38"/>
<circle cx="612.4" cy="71.3" r="2.7" fill="#B79F00"/>
<circle cx="554.5" cy="74.5" r="2.7" fill="#F8766D"/>
<circle cx="578.2" cy="74.5" r="2.7" fill="#F564E3"/>
<circle cx="598.4" cy="90.1" r="2.7" fill="#00BFC4"/>
<circle cx="628.0" cy="29.2" r="2.7" fill="#00BFC4"/>
<circle cx="615.3" cy="47.2" r="2.7" fill="#619CFF"/>
<circle cx="630.7" cy="60.5" r="2.7" fill="#619CFF"/>
<circle cx="651.5" cy="42.4" r="2.7" fill="#00BFC4"/>
<circle cx="656.9" cy="47.2" r="2.7" fill="#00BFC4"/>
<circle cx="647.4" cy="60.5" r="2.7" fill="#00BFC4"/>
<circle cx="651.0" cy="58.3" r="2.7" fill="#00BFC4"/>
<circle cx="659.2" cy="60.8" r="2.7" fill="#00BFC4"/>
<circle cx="649.0" cy="67.6" r="2.7" fill="#00BFC4"/>
<circle cx="609.6" cy="76.4" r="2.7" fill="#F564E3"/>
<circle cx="613.4" cy="79.1" r="2.7" fill="#B79F00"/>
<circle cx="617.1" cy="83.2" r="2.7" fill="#B79F00"/>
<circle cx="609.3" cy="85.9" r="2.7" fill="#B79F00"/>
<circle cx="607.6" cy="88.0" r="2.7" fill="#F8766D"/>
<circle cx="606.9" cy="90.4" r="2.7" fill="#00BFC4"/>
<circle cx="600.1" cy="96.8" r="2.7" fill="#B79F00"/>
<circle cx="611.2" cy="94.5" r="2.7" fill="#619CFF"/>
<circle cx="626.6" cy="72.3" r="2.7" fill="#619CFF"/>
<circle cx="624.5" cy="74.4" r="2.7" fill="#00BA38"/>
<circle cx="627.3" cy="76.4" r="2.7" fill="#619CFF"/>
<circle cx="632.4" cy="74.4" r="2.7" fill="#619CFF"/>
<circle cx="636.1" cy="71.9" r="2.7" fill="#F564E3"/>
<circle cx="632.7" cy="77.1" r="2.7" fill="#00BA38"/>
<circle cx="634.7" cy="81.4" r="2.7" fill="#00BFC4"/>
<circle cx="624.5" cy="83.2" r="2.7" fill="#00BFC4"/>
<circle cx="630.0" cy="86.3" r="2.7" fill="#619CFF"/>
<circle cx="645.6" cy="81.2" r="2.7" fill="#00BFC4"/>
<circle cx="638.1" cy="87.7" r="2.7" fill="#00BA38"/>
<circle cx="641.5" cy="92.3" r="2.7" fill="#00BA38"/>
<circle cx="641.5" cy="96.8" r="2.7" fill="#00BA38"/>
<circle cx="647.9" cy="98.6" r="2.7" fill="#00BA38"/>
<circle cx="651.5" cy="85.9" r="2.7" fill="#F564E3"/>
<circle cx="657.8" cy="90.0" r="2.7" fill="#F564E3"/>
<circle cx="664.6" cy="87.7" r="2.7" fill="#F564E3"/>
<circle cx="663.3" cy="91.4" r="2.7" fill="#F564E3"/>
<circle cx="662.6" cy="95.0" r="2.7" fill="#F564E3"/>
<circle cx="621.1" cy="93.4" r="2.7" fill="#619CFF"/>
<circle cx="623.2" cy="94.8" r="2.7" fill="#F8766D"/>
<circle cx="626.6" cy="94.8" r="2.7" fill="#F8766D"/>
<circle cx="608.5" cy="103.9" r="2.7" fill="#619CFF"/>
<circle cx="626.6" cy="101.1" r="2.7" fill="#F8766D"/>
<circle cx="630.7" cy="101.6" r="2.7" fill="#F8766D"/>
<circle cx="623.2" cy="106.3" r="2.7" fill="#F8766D"/>
<circle cx="633.4" cy="108.3" r="2.7" fill="#F8766D"/>
<circle cx="647.4" cy="102.0" r="2.7" fill="#F564E3"/>
<circle cx="661.5" cy="103.6" r="2.7" fill="#F564E3"/>
<circle cx="666.4" cy="106.3" r="2.7" fill="#F564E3"/>
<circle cx="655.8" cy="108.3" r="2.7" fill="#F564E3"/>
<circle cx="641.9" cy="110.7" r="2.7" fill="#00BA38"/>
<circle cx="635.7" cy="117.5" r="2.7" fill="#00BA38"/>
<circle cx="609.6" cy="115.1" r="2.7" fill="#00BA38"/>
<circle cx="613.4" cy="115.1" r="2.7" fill="#F8766D"/>
<circle cx="620.5" cy="117.5" r="2.7" fill="#00BA38"/>
<circle cx="623.2" cy="121.9" r="2.7" fill="#F564E3"/>
<circle cx="606.6" cy="124.0" r="2.7" fill="#F8766D"/>
<circle cx="609.9" cy="124.0" r="2.7" fill="#00BA38"/>
<circle cx="603.1" cy="130.8" r="2.7" fill="#F8766D"/>
<circle cx="611.2" cy="137.6" r="2.7" fill="#F564E3"/>
<path d="M426.10,191.42 L431.00,189.91 L435.89,188.37 L440.79,186.78 L445.68,185.16 L450.58,183.49 L455.48,181.79 L460.37,180.04 L465.27,178.25 L470.16,176.41 L475.06,174.53 L479.96,172.60 L484.85,170.62 L489.75,168.58 L494.64,166.50 L499.54,164.37 L504.43,162.18 L509.33,159.93 L514.23,157.63 L519.12,155.27 L524.02,152.85 L528.91,150.36 L533.81,147.82 L538.71,145.22 L543.60,142.54 L548.50,139.81 L553.39,137.00 L558.29,134.13 L563.19,131.19 L568.08,128.18 L572.98,125.09 L577.87,121.93 L582.77,118.70 L587.67,115.39 L592.56,112.01 L597.46,108.54 L602.35,104.99 L607.25,101.37 L612.14,97.66 L617.04,93.87 L621.94,89.99 L626.83,86.02 L631.73,81.97 L636.62,77.83 L641.52,73.60 L646.42,69.28 L651.31,64.86 L656.21,60.35 L661.10,55.75 L666.00,51.05" fill="none" stroke="#000" stroke-width="2.8"/>
</g>
<line x1="67.5" y1="1.5" x2="67.5" y2="224.3" stroke="#333333" stroke-width="1.1"/>
<line x1="331.5" y1="1.5" x2="331.5" y2="224.3" stroke="#333333" stroke-width="1.1"/>
<line x1="67.0" y1="1.5" x2="332.0" y2="1.5" stroke="#333333" stroke-width="1.1"/>
<line x1="67.0" y1="224.3" x2="332.0" y2="224.3" stroke="#333333" stroke-width="1.1"/>
<line x1="63.5" y1="11.300000000000011" x2="67.5" y2="11.300000000000011" stroke="#333333" stroke-width="1.1"/>
<path transform="translate(25.98,18.20) scale(0.00869,-0.00869)" d="M515,0 L696,0 L696,1409 L530,1409 L197,1180 L197,1010 L515,1237 Z" fill="#000"/>
<text x="35.88" y="18.20" font-size="17.8">0.0</text>
<line x1="63.5" y1="60.55000000000001" x2="67.5" y2="60.55000000000001" stroke="#333333" stroke-width="1.1"/>
<text x="43.3" y="67.45" font-size="17.8" text-anchor="middle">7.5</text>
<line x1="63.5" y1="109.80000000000001" x2="67.5" y2="109.80000000000001" stroke="#333333" stroke-width="1.1"/>
<text x="43.3" y="116.70" font-size="17.8" text-anchor="middle">5.0</text>
<line x1="63.5" y1="159.05" x2="67.5" y2="159.05" stroke="#333333" stroke-width="1.1"/>
<text x="43.3" y="165.95" font-size="17.8" text-anchor="middle">2.5</text>
<line x1="63.5" y1="208.3" x2="67.5" y2="208.3" stroke="#333333" stroke-width="1.1"/>
<text x="43.3" y="215.20" font-size="17.8" text-anchor="middle">0.0</text>
<line x1="79.0" y1="224.3" x2="79.0" y2="228.3" stroke="#333333" stroke-width="1.1"/>
<text x="79.0" y="247.0" font-size="17.8" text-anchor="middle">0</text>
<line x1="159.33333333333331" y1="224.3" x2="159.33333333333331" y2="228.3" stroke="#333333" stroke-width="1.1"/>
<text x="159.33333333333331" y="247.0" font-size="17.8" text-anchor="middle">20</text>
<line x1="239.66666666666666" y1="224.3" x2="239.66666666666666" y2="228.3" stroke="#333333" stroke-width="1.1"/>
<text x="239.66666666666666" y="247.0" font-size="17.8" text-anchor="middle">40</text>
<line x1="320.0" y1="224.3" x2="320.0" y2="228.3" stroke="#333333" stroke-width="1.1"/>
<text x="320.0" y="247.0" font-size="17.8" text-anchor="middle">60</text>
<text transform="translate(199.5,271.9) scale(0.995,1)" x="0" y="0" font-size="24.8" text-anchor="middle">Distance from Base (cm)</text>
<text transform="translate(19.3,113.5) rotate(-90) scale(0.995,1)" x="0" y="0" font-size="24.8" text-anchor="middle" xml:space="preserve">Leaf  Width (mm)</text>
<text x="74.6" y="25.8" font-size="19.9">A</text>
<line x1="414.0" y1="1.5" x2="414.0" y2="224.3" stroke="#707070" stroke-width="1.4"/>
<line x1="677.8" y1="1.5" x2="677.8" y2="224.3" stroke="#707070" stroke-width="1.4"/>
<line x1="413.5" y1="1.5" x2="678.3" y2="1.5" stroke="#333333" stroke-width="1.1"/>
<line x1="413.5" y1="224.3" x2="678.3" y2="224.3" stroke="#333333" stroke-width="1.1"/>
<line x1="410.0" y1="49.30000000000001" x2="414.0" y2="49.30000000000001" stroke="#333333" stroke-width="1.1"/>
<text x="407.4" y="56.20" font-size="17.8" text-anchor="end">0.75</text>
<line x1="410.0" y1="105.80000000000001" x2="414.0" y2="105.80000000000001" stroke="#333333" stroke-width="1.1"/>
<text x="407.4" y="112.70" font-size="17.8" text-anchor="end">0.50</text>
<line x1="410.0" y1="162.3" x2="414.0" y2="162.3" stroke="#333333" stroke-width="1.1"/>
<text x="407.4" y="169.20" font-size="17.8" text-anchor="end">0.25</text>
<line x1="410.0" y1="218.8" x2="414.0" y2="218.8" stroke="#333333" stroke-width="1.1"/>
<text x="407.4" y="225.70" font-size="17.8" text-anchor="end">0.00</text>
<line x1="423.2" y1="224.3" x2="423.2" y2="228.3" stroke="#333333" stroke-width="1.1"/>
<text x="423.2" y="247.0" font-size="17.8" text-anchor="middle">0.0</text>
<line x1="484.075" y1="224.3" x2="484.075" y2="228.3" stroke="#333333" stroke-width="1.1"/>
<text x="484.075" y="247.0" font-size="17.8" text-anchor="middle">2.5</text>
<line x1="544.95" y1="224.3" x2="544.95" y2="228.3" stroke="#333333" stroke-width="1.1"/>
<text x="544.95" y="247.0" font-size="17.8" text-anchor="middle">5.0</text>
<line x1="605.825" y1="224.3" x2="605.825" y2="228.3" stroke="#333333" stroke-width="1.1"/>
<text x="605.825" y="247.0" font-size="17.8" text-anchor="middle">7.5</text>
<line x1="666.7" y1="224.3" x2="666.7" y2="228.3" stroke="#333333" stroke-width="1.1"/>
<path transform="translate(649.38,247.00) scale(0.00869,-0.00869)" d="M515,0 L696,0 L696,1409 L530,1409 L197,1180 L197,1010 L515,1237 Z" fill="#000"/>
<text x="659.28" y="247.00" font-size="17.8">0.0</text>
<text transform="translate(545.9,271.9) scale(0.995,1)" x="0" y="0" font-size="24.8" text-anchor="middle">Leaf width (mm)</text>
<text transform="translate(365.7,113.5) rotate(-90) scale(0.995,1)" x="0" y="0" font-size="24.8" text-anchor="middle" xml:space="preserve">Leaf thickness (mm)</text>
<text x="420.8" y="25.8" font-size="19.9">C</text>
<line x1="67.5" y1="312.5" x2="67.5" y2="535.9" stroke="#333333" stroke-width="1.1"/>
<line x1="331.5" y1="312.5" x2="331.5" y2="535.9" stroke="#333333" stroke-width="1.1"/>
<line x1="67.0" y1="312.5" x2="332.0" y2="312.5" stroke="#333333" stroke-width="1.1"/>
<line x1="67.0" y1="535.9" x2="332.0" y2="535.9" stroke="#333333" stroke-width="1.1"/>
<line x1="63.5" y1="361.20000000000005" x2="67.5" y2="361.20000000000005" stroke="#333333" stroke-width="1.1"/>
<text x="60.3" y="368.10" font-size="17.8" text-anchor="end">0.75</text>
<line x1="63.5" y1="417.70000000000005" x2="67.5" y2="417.70000000000005" stroke="#333333" stroke-width="1.1"/>
<text x="60.3" y="424.60" font-size="17.8" text-anchor="end">0.50</text>
<line x1="63.5" y1="474.20000000000005" x2="67.5" y2="474.20000000000005" stroke="#333333" stroke-width="1.1"/>
<text x="60.3" y="481.10" font-size="17.8" text-anchor="end">0.25</text>
<line x1="63.5" y1="530.7" x2="67.5" y2="530.7" stroke="#333333" stroke-width="1.1"/>
<text x="60.3" y="537.60" font-size="17.8" text-anchor="end">0.00</text>
<line x1="79.0" y1="535.9" x2="79.0" y2="539.9" stroke="#333333" stroke-width="1.1"/>
<text x="79.0" y="558.2" font-size="17.8" text-anchor="middle">0</text>
<line x1="159.33333333333331" y1="535.9" x2="159.33333333333331" y2="539.9" stroke="#333333" stroke-width="1.1"/>
<text x="159.33333333333331" y="558.2" font-size="17.8" text-anchor="middle">20</text>
<line x1="239.66666666666666" y1="535.9" x2="239.66666666666666" y2="539.9" stroke="#333333" stroke-width="1.1"/>
<text x="239.66666666666666" y="558.2" font-size="17.8" text-anchor="middle">40</text>
<line x1="320.0" y1="535.9" x2="320.0" y2="539.9" stroke="#333333" stroke-width="1.1"/>
<text x="320.0" y="558.2" font-size="17.8" text-anchor="middle">60</text>
<text transform="translate(199.5,583.2) scale(0.995,1)" x="0" y="0" font-size="24.8" text-anchor="middle">Distance from Base (cm)</text>
<text transform="translate(19.2,424.8) rotate(-90) scale(0.995,1)" x="0" y="0" font-size="24.8" text-anchor="middle" xml:space="preserve">Leaf thickness (mm)</text>
<text x="74.9" y="337.6" font-size="19.5">B</text>
<line x1="424.2" y1="371.8" x2="441.4" y2="371.8" stroke="#F564E3" stroke-width="2.2"/>
<circle cx="432.8" cy="371.8" r="2.6" fill="#F564E3"/>
<text x="450.2" y="376.50" font-size="12.3" style="fill:#111">JB (Semi Arid Desert)</text>
<line x1="424.2" y1="392.9" x2="441.4" y2="392.9" stroke="#619CFF" stroke-width="2.2"/>
<circle cx="432.8" cy="392.9" r="2.6" fill="#619CFF"/>
<text x="450.2" y="397.60" font-size="12.3" style="fill:#111">YL (Semi Arid Desert)</text>
<line x1="424.2" y1="414.0" x2="441.4" y2="414.0" stroke="#00BFC4" stroke-width="2.2"/>
<circle cx="432.8" cy="414.0" r="2.6" fill="#00BFC4"/>
<text x="450.2" y="418.70" font-size="12.3" style="fill:#111">ER (Semi Arid Desert)</text>
<line x1="424.2" y1="435.1" x2="441.4" y2="435.1" stroke="#00BA38" stroke-width="2.2"/>
<circle cx="432.8" cy="435.1" r="2.6" fill="#00BA38"/>
<text x="450.2" y="439.80" font-size="12.3" style="fill:#111">LZ (Arid Desert)</text>
<line x1="424.2" y1="456.2" x2="441.4" y2="456.2" stroke="#B79F00" stroke-width="2.2"/>
<circle cx="432.8" cy="456.2" r="2.6" fill="#B79F00"/>
<text x="450.2" y="460.90" font-size="12.3" style="fill:#111">AZ (Arid Desert)</text>
<line x1="424.2" y1="477.3" x2="441.4" y2="477.3" stroke="#F8766D" stroke-width="2.2"/>
<circle cx="432.8" cy="477.3" r="2.6" fill="#F8766D"/>
<text x="450.2" y="482.00" font-size="12.3" style="fill:#111">BD (Arid Desert)</text>
</svg></body></html>
